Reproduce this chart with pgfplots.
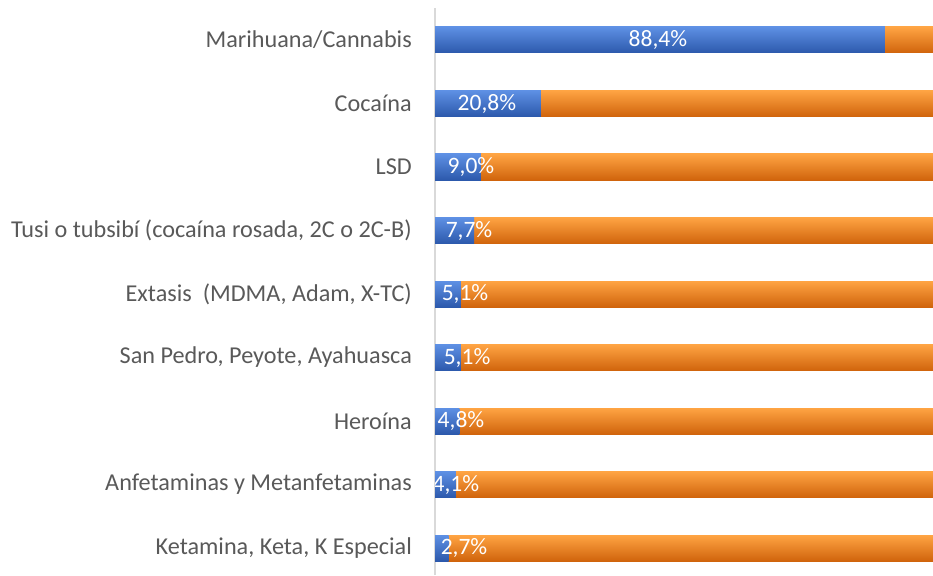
\documentclass[border=0pt]{standalone}
\usepackage{pgfplots}
\pgfplotsset{compat=1.18}
\usepackage{fontspec}
\setmainfont{Carlito}
\definecolor{bluetop}{HTML}{5E90E4}
\definecolor{bluemid}{HTML}{3B6FD0}
\definecolor{bluebot}{HTML}{2C59AC}
\definecolor{orgtop}{HTML}{FFA443}
\definecolor{orgmid}{HTML}{F27D16}
\definecolor{orgbot}{HTML}{D0640C}
\definecolor{lbl}{HTML}{595959}
\tikzset{dl/.style={font=\fontsize{23.5}{26}\selectfont, text=white}}
\pgfplotsset{
  ob/.style={draw=none, top color=orgtop, middle color=orgmid, bottom color=orgbot},
  bb/.style={draw=none, top color=bluetop, middle color=bluemid, bottom color=bluebot},
}
\begin{document}
\begin{tikzpicture}
\useasboundingbox (0,0) rectangle (933pt,575pt);
\begin{axis}[
  at={(435pt,0pt)}, anchor=south west,
  scale only axis, width=498pt, height=567pt,
  xmin=0, xmax=97.84, ymin=-0.425, ymax=8.504,
  xbar, bar width=26pt, bar shift=0pt,
  axis x line=none,
  axis y line*=left,
  y axis line style={draw=black!15, line width=1.6pt},
  ytick={0,...,8},
  yticklabels={{Ketamina, Keta, K Especial~},{Anfetaminas y Metanfetaminas},{Heroína},{San Pedro, Peyote, Ayahuasca},{Extasis~~(MDMA, Adam, X-TC)},{Tusi o tubsibí (cocaína rosada, 2C o 2C-B)},{LSD},{Cocaína},{Marihuana/Cannabis}},
  major tick length=0pt,
  yticklabel style={font=\fontsize{24.2}{28}\selectfont, text=lbl, inner sep=0pt, xshift=-23pt},
]
% orange: total (100 %), one bar per category
\addplot[ob] coordinates {(100,0)};
\addplot[ob] coordinates {(100,1)};
\addplot[ob] coordinates {(100,2)};
\addplot[ob] coordinates {(100,3)};
\addplot[ob] coordinates {(100,4)};
\addplot[ob] coordinates {(100,5)};
\addplot[ob] coordinates {(100,6)};
\addplot[ob] coordinates {(100,7)};
\addplot[ob] coordinates {(100,8)};
% blue: share
\addplot[bb] coordinates {(2.7,0)};
\addplot[bb] coordinates {(4.1,1)};
\addplot[bb] coordinates {(4.8,2)};
\addplot[bb] coordinates {(5.1,3)};
\addplot[bb] coordinates {(5.1,4)};
\addplot[bb] coordinates {(7.7,5)};
\addplot[bb] coordinates {(9.0,6)};
\addplot[bb] coordinates {(20.8,7)};
\addplot[bb] coordinates {(88.4,8)};
\node[dl] at (axis cs:43.8,8) {88,4\%};
\node[dl] at (axis cs:10.2,7) {20,8\%};
\node[dl] at (axis cs:7.07,6) {9,0\%};
\node[dl] at (axis cs:6.68,5) {7,7\%};
\node[dl] at (axis cs:5.9,4) {5,1\%};
\node[dl] at (axis cs:6.3,3) {5,1\%};
\node[dl] at (axis cs:5.1,2) {4,8\%};
\node[dl] at (axis cs:4.1,1) {4,1\%};
\node[dl] at (axis cs:5.7,0) {2,7\%};
\end{axis}
\end{tikzpicture}
\end{document}
